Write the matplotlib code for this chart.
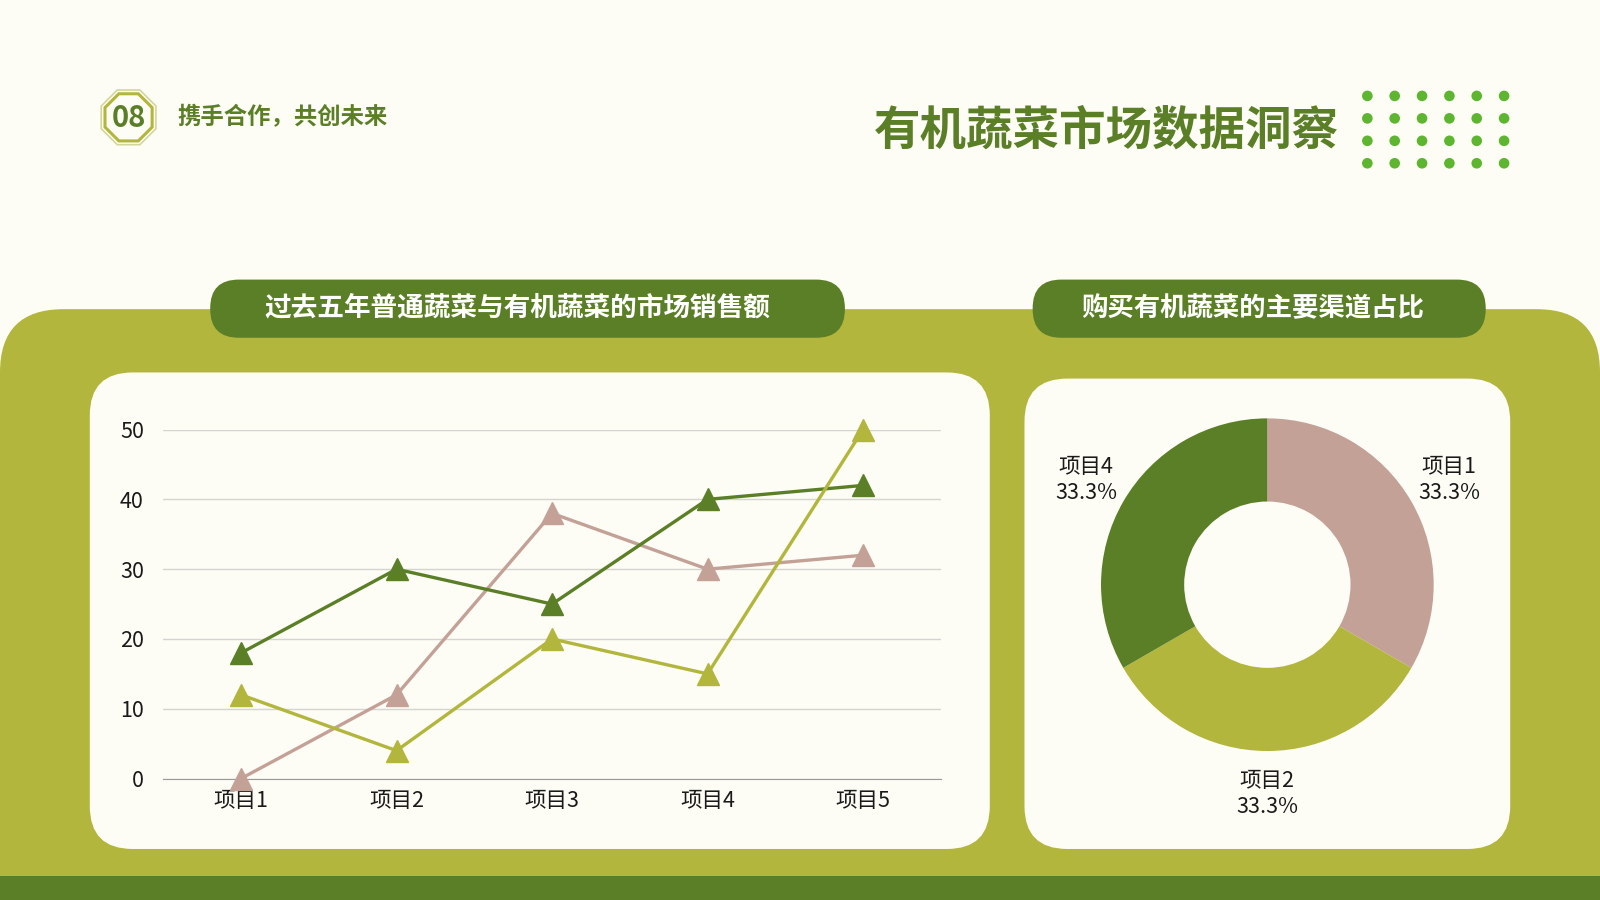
import matplotlib
matplotlib.use('Agg')
import matplotlib.pyplot as plt
from matplotlib.patches import FancyBboxPatch, RegularPolygon, Rectangle, Circle
import numpy as np

plt.rcParams['font.family'] = ['Noto Sans CJK SC', 'DejaVu Sans']

# data
categories = ['项目1', '项目2', '项目3', '项目4', '项目5']
series_dark = [18, 30, 25, 40, 42]
series_pink = [0, 12, 38, 30, 32]
series_olive = [12, 4, 20, 15, 50]
y_ticks = [0, 10, 20, 30, 40, 50]

pie_labels = ['项目1', '项目2', '项目4']
pie_values = [1, 1, 1]

title = '有机蔬菜市场数据洞察'
subtitle = '携手合作，共创未来'
badge = '08'
line_title = '过去五年普通蔬菜与有机蔬菜的市场销售额'
pie_title = '购买有机蔬菜的主要渠道占比'

# colours
BG = '#fdfdf5'
DARK = '#5b7f27'
PINK = '#c4a197'
OLIVE = '#b3b63c'
DOT = '#5db530'

W, H = 1568, 882  # layout units (reference pixels)

fig = plt.figure(figsize=(16, 9), dpi=100, facecolor=BG)
bg = fig.add_axes([0, 0, 1, 1])
bg.set_xlim(0, W)
bg.set_ylim(H, 0)
bg.axis('off')

def rbox(x0, y0, x1, y1, r, color, z=1):
    p = FancyBboxPatch((x0, y0), x1 - x0, y1 - y0,
                       boxstyle=f'round,pad=0,rounding_size={r}',
                       facecolor=color, edgecolor='none', zorder=z)
    bg.add_patch(p)

# olive band + bottom strip
rbox(0, 303, W, 1000, 62, OLIVE, 1)
bg.add_patch(Rectangle((0, 858), W, 40, facecolor=DARK, edgecolor='none', zorder=2))

# cards
rbox(88, 365, 970, 832, 42, BG, 3)
rbox(1004, 371, 1480, 832, 42, BG, 3)

# title pills
rbox(206, 274, 828, 331, 28, DARK, 4)
rbox(1012, 274, 1456, 331, 28, DARK, 4)
bg.text(507, 302, line_title, color='white', fontsize=19.2, fontweight='bold',
        ha='center', va='center', zorder=5)
bg.text(1228, 302, pie_title, color='white', fontsize=19, fontweight='bold',
        ha='center', va='center', zorder=5)

# header
bg.text(1312, 128, title, color=DARK, fontsize=33.5, fontweight='bold',
        ha='right', va='center', zorder=5)
bg.add_patch(RegularPolygon((126, 115), 8, radius=29, orientation=np.pi / 8,
                            facecolor=BG, edgecolor='#d3d69a', lw=1.2, zorder=4))
bg.add_patch(RegularPolygon((126, 115), 8, radius=25, orientation=np.pi / 8,
                            facecolor=BG, edgecolor=OLIVE, lw=2.2, zorder=4))
bg.text(126, 116, badge, color=DARK, fontsize=21, fontweight='bold',
        ha='center', va='center', zorder=5)
bg.text(174, 115, subtitle, color=DARK, fontsize=16.8, fontweight='bold',
        ha='left', va='center', zorder=5)

# dot grid
for i in range(6):
    for j in range(4):
        bg.add_patch(Circle((1340 + i * 26.8, 94 + j * 22), 5.2,
                            facecolor=DOT, edgecolor='none', zorder=4))

# line chart
ax = fig.add_axes([160 / W, 1 - 763 / H, 762 / W, 342 / H])
ax.set_facecolor('none')
x = np.arange(len(categories))
for vals, col, z in [(series_pink, PINK, 3), (series_dark, DARK, 4), (series_olive, OLIVE, 5)]:
    ax.plot(x, vals, color=col, lw=2.4, marker='^', markersize=16,
            clip_on=False, zorder=z)
ax.set_xlim(-0.5, len(categories) - 0.5)
ax.set_ylim(0, 50)
ax.set_yticks(y_ticks)
ax.set_xticks(x)
ax.set_xticklabels(categories)
ax.grid(axis='y', color='#d4d4d0', lw=1)
ax.set_axisbelow(True)
for s in ['left', 'right', 'top']:
    ax.spines[s].set_visible(False)
ax.spines['bottom'].set_color('#9a9a98')
ax.tick_params(axis='both', length=0, labelsize=15.5, colors='#1a1a1a')
ax.tick_params(axis='y', pad=14)
ax.tick_params(axis='x', pad=8)

# donut
R = 163
half = R * 1.6
pax = fig.add_axes([(1242 - half) / W, 1 - (573 + half) / H, 2 * half / W, 2 * half / H])
total = sum(pie_values)
texts = [f'{n}\n{v / total * 100:.1f}%' for n, v in zip(pie_labels, pie_values)]
wedges, ltexts = pax.pie(pie_values, colors=[PINK, OLIVE, DARK], startangle=90,
                         counterclock=False, labels=texts, labeldistance=1.26,
                         wedgeprops=dict(width=0.5, edgecolor='none'),
                         textprops=dict(fontsize=15.5, color='#1a1a1a'))
pax.set_xlim(-1.6, 1.6)
pax.set_ylim(-1.6, 1.6)
pax.set_aspect('equal')
pax.axis('off')
for t in ltexts:
    t.set_horizontalalignment('center')
    t.set_verticalalignment('center')
    t.set_linespacing(1.25)

fig.savefig('out.png', dpi=100, facecolor=BG)
